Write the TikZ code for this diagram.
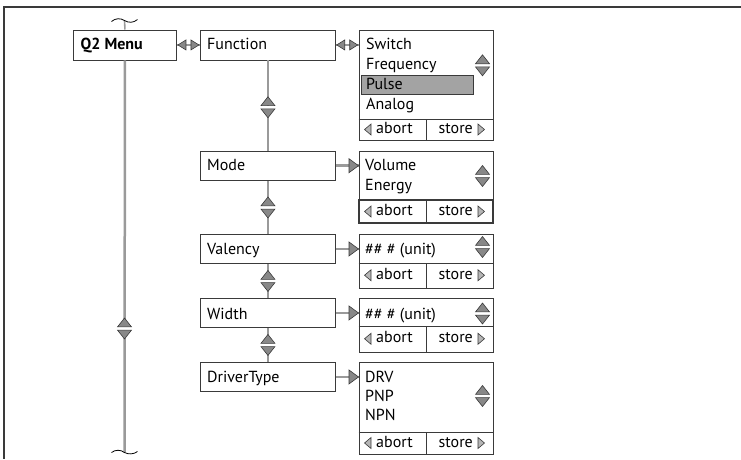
\documentclass[tikz,border=0pt]{standalone}
\usepackage{fontspec}
\setmainfont{PT Sans}
\usetikzlibrary{calc}
\definecolor{boxc}{HTML}{3A3A3A}
\definecolor{linec}{HTML}{9A9A9A}
\definecolor{trif}{HTML}{888888}
\definecolor{hlc}{HTML}{A3A3A3}
\definecolor{abf}{HTML}{B5B5B5}
\newcommand\abortrow[3]{%
  \draw[rule] (358.5,#2) -- (493,#2);
  \draw[rule] (426,#2) -- (426,#3);
  \pic at (364.5,{(#2+#3)/2}) {abl};
  \node[txt] (#1ab) at (376,{(#2+#3)/2+4}) {abort};
  \node[txtr] (#1st) at (473,{(#2+#3)/2+4}) {store};
  \pic at (484.5,{(#2+#3)/2}) {abr};
}
\begin{document}
\begin{tikzpicture}[x=1pt,y=-1pt,
  box/.style={draw=boxc, line width=0.9pt, rectangle, inner sep=0pt, anchor=north west},
  rule/.style={draw=boxc, line width=0.9pt},
  conn/.style={draw=linec, line width=2.5pt},
  thinconn/.style={draw=linec, line width=1.6pt},
  tri/.style={fill=trif, draw=boxc, line width=0.6pt, line join=miter},
  smalltri/.style={fill=abf, draw=boxc, line width=0.6pt, line join=miter},
  txt/.style={anchor=base west, inner sep=0pt, font=\fontsize{16}{19}\selectfont},
  txtr/.style={anchor=base east, inner sep=0pt, font=\fontsize{16}{19}\selectfont},
  tildestyle/.style={draw=black, line width=0.8pt},
  ud/.pic={
    \fill[white] (-7,-1.6) rectangle (7,1.6);
    \draw[tri] (0,-10.5) -- (-7,-1.6) -- (7,-1.6) -- cycle;
    \draw[tri] (-7,1.6) -- (7,1.6) -- (0,10.5) -- cycle;
  },
  lr/.pic={
    \draw[tri] (-10.5,0) -- (-2.5,-5) -- (-2.5,5) -- cycle;
    \draw[tri] (10.5,0) -- (2.5,-5) -- (2.5,5) -- cycle;
  },
  rt/.pic={\draw[tri] (0,0) -- (-9.5,-7) -- (-9.5,7) -- cycle;},
  abl/.pic={\draw[smalltri] (0,0) -- (6.5,-5.5) -- (6.5,5.5) -- cycle;},
  abr/.pic={\draw[smalltri] (0,0) -- (-6.5,-5.5) -- (-6.5,5.5) -- cycle;},
]
\useasboundingbox (0,0) rectangle (741,459);
% frame
\draw[boxc, line width=1.2pt] (741,7) -- (4,7) -- (4,459);

% boxes
\node[box, minimum width=103pt, minimum height=30pt] (q2) at (73,29.5) {};
\node[box, minimum width=135pt, minimum height=30pt] (fn) at (200,29.5) {};
\node[box, minimum width=134.5pt, minimum height=110.5pt] (sw) at (358.5,29.5) {};
\node[box, minimum width=135pt, minimum height=29.5pt] (mode) at (200,150.5) {};
\node[box, minimum width=134.5pt, minimum height=72.5pt] (vmode) at (358.5,150.5) {};
\node[box, minimum width=135pt, minimum height=29pt] (val) at (200,234) {};
\node[box, minimum width=134.5pt, minimum height=53.5pt] (vval) at (358.5,234) {};
\node[box, minimum width=135pt, minimum height=29pt] (wid) at (200,298) {};
\node[box, minimum width=134.5pt, minimum height=53.5pt] (vwid) at (358.5,298) {};
\node[box, minimum width=135pt, minimum height=29pt] (drv) at (200,362) {};
\node[box, minimum width=134.5pt, minimum height=92pt] (vdrv) at (358.5,362) {};

% highlight
\draw[fill=hlc, draw=boxc, line width=0.8pt] (361.5,75.5) rectangle (473,94);

% texts
\node[txt] (tq2) at (80.5,49.3) {\bfseries Q2 Menu};
\node[txt] (tfn) at (207,49.3) {Function};
\node[txt] (tsw) at (366,49.3) {Switch};
\node[txt] (tfr) at (366,69) {Frequency};
\node[txt] (tpu) at (366,89) {Pulse};
\node[txt] (tan) at (366,109) {Analog};
\node[txt] (tmo) at (207,170) {Mode};
\node[txt] (tvo) at (365,170.7) {Volume};
\node[txt] (ten) at (365,190.7) {Energy};
\node[txt] (tva) at (207,254) {Valency};
\node[txt] (tvu) at (365,254) {\#\# \# (unit)};
\node[txt] (twi) at (207,319) {Width};
\node[txt] (twu) at (365,319) {\#\# \# (unit)};
\node[txt] (tdt) at (207,382) {DriverType};
\node[txt] (tdr) at (365,382) {DRV};
\node[txt] (tpn) at (365,401.7) {PNP};
\node[txt] (tnp) at (365,420.7) {NPN};

% abort rows
\abortrow{sw}{119}{140}
\abortrow{vm}{200}{223}
\draw[boxc, line width=1.6pt] (358.5,200) rectangle (493,223);
\abortrow{vv}{263}{287.5}
\abortrow{vw}{326}{351.5}
\abortrow{vd}{432}{454}

% scroll arrows
\pic at (482.5,65.3) {ud};
\pic at (482.5,176) {ud};
\pic at (482.5,247) {ud};
\pic at (482.5,313.5) {ud};
\pic at (482.5,396) {ud};

% connectors
\coordinate (qt) at (124.5,20.5);
\coordinate (qb) at (124.5,452.5);
\draw[thinconn] (qt) -- (q2.north);
\draw[conn] (q2.south) -- (qb);
\pic at (124.5,328.5) {ud};
\draw[tildestyle] ($(qt)+(-13,1)$) .. controls ($(qt)+(-9,-2.5)$) and ($(qt)+(-4,-2.5)$) .. (qt) .. controls ($(qt)+(4,2.5)$) and ($(qt)+(9,2.5)$) .. ($(qt)+(13,-1)$);
\draw[tildestyle] ($(qb)+(-13,0)$) .. controls ($(qb)+(-9,-3)$) and ($(qb)+(-4,-3)$) .. (qb) .. controls ($(qb)+(4,2)$) and ($(qb)+(9,2)$) .. ($(qb)+(13,-1)$);

\draw[conn] (q2.east) -- (fn.west);
\pic at ($(q2.east)!.5!(fn.west)$) {lr};
\draw[conn] (fn.east) -- (sw.west |- fn.east);
\pic at ($(fn.east)!.5!(sw.west |- fn.east)$) {lr};

\draw[conn] (fn.south) -- (mode.north);
\pic at ($(fn.south)!.52!(mode.north)$) {ud};
\draw[conn] (mode.south) -- (val.north);
\pic at ($(mode.south)!.5!(val.north)$) {ud};
\draw[conn] (val.south) -- (wid.north);
\pic at ($(val.south)!.5!(wid.north)$) {ud};
\draw[conn] (wid.south) -- (drv.north);
\pic at ($(wid.south)!.5!(drv.north)$) {ud};

\draw[conn] (mode.east) -- (vmode.west |- mode.east);
\pic at (vmode.west |- mode.east) {rt};
\draw[conn] (val.east) -- (vval.west |- val.east);
\pic at (vval.west |- val.east) {rt};
\draw[conn] (wid.east) -- (vwid.west |- wid.east);
\pic at (vwid.west |- wid.east) {rt};
\draw[conn] (drv.east) -- (vdrv.west |- drv.east);
\pic at (vdrv.west |- drv.east) {rt};
\end{tikzpicture}
\end{document}
